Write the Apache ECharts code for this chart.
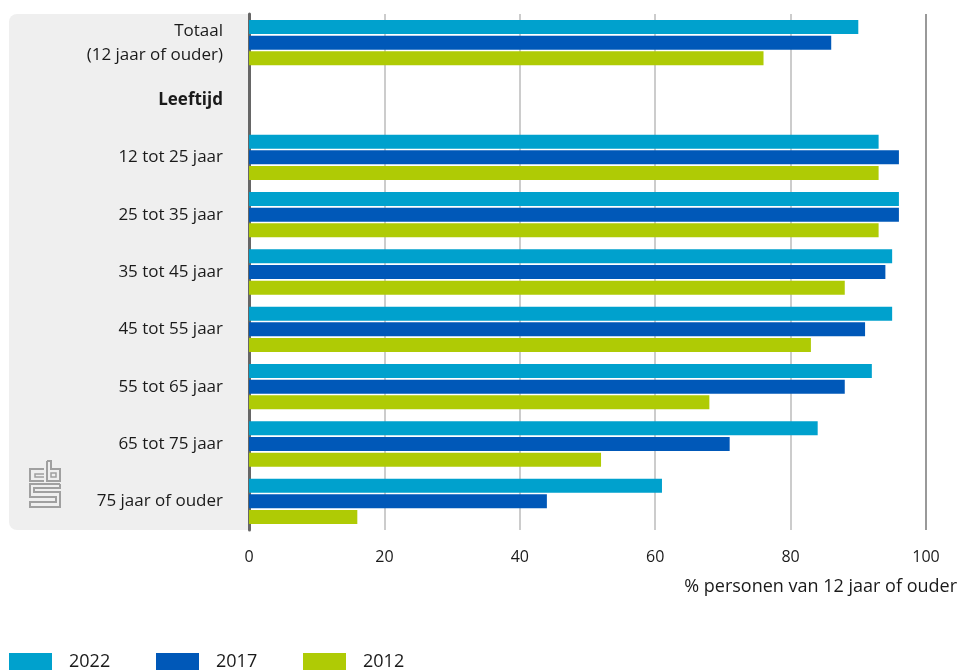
<!DOCTYPE html>
<html>
<head>
<meta charset="utf-8">
<script src="https://cdn.jsdelivr.net/npm/echarts@6/dist/echarts.min.js"></script>
<style>
  html, body { margin: 0; padding: 0; background: #fff; }
  #chart { width: 959px; height: 670px; }
</style>
</head>
<body>
<div id="chart"></div>
<script>
const categories = ["Totaal\n(12 jaar of ouder)", "Leeftijd", "12 tot 25 jaar", "25 tot 35 jaar", "35 tot 45 jaar", "45 tot 55 jaar", "55 tot 65 jaar", "65 tot 75 jaar", "75 jaar of ouder"];
const values2022 = [90, null, 93, 96, 95, 95, 92, 84, 61];
const values2017 = [86, null, 96, 96, 94, 91, 88, 71, 44];
const values2012 = [76, null, 93, 93, 88, 83, 68, 52, 16];
const seriesNames = ["2022", "2017", "2012"];
const xTitle = "% personen van 12 jaar of ouder";

const colorList = ["#00a1cd", "#0058b8", "#afcb05"];
const font = "Open Sans";
const textColor = "#1a1a1a";

var chart = echarts.init(document.getElementById("chart"));

function barSeries(name, data, idx) {
  return {
    type: "bar",
    name: name,
    data: data,
    barWidth: 14,
    barGap: "12%",
    itemStyle: { color: colorList[idx] },
    emphasis: { disabled: true },
  };
}

// one legend per item so the spacing matches the original
var legendLefts = [9, 156, 303];
var legends = seriesNames.map((name, idx) => {
  return {
    left: legendLefts[idx],
    top: 653,
    padding: 0,
    icon: "rect",
    itemWidth: 43,
    itemHeight: 18,
    selectedMode: false,
    textStyle: { fontSize: 18, fontFamily: font, color: textColor, padding: [0, 0, 0, 12] },
    data: [name],
  };
});

var logoStyle = { stroke: "#a0a0a0", lineWidth: 2, fill: null };

var option = {
  animation: false,
  backgroundColor: "#fff",
  textStyle: { fontFamily: font, color: textColor },
  graphic: [
    {
      type: "rect",
      z: -10,
      shape: { x: 9, y: 14, width: 240, height: 516, r: [8, 0, 0, 8] },
      style: { fill: "#efefef" },
    },
    {
      type: "group",
      z: -5,
      children: [
        { type: "polyline", shape: { points: [[44, 469], [30, 469], [30, 481], [44, 481]] }, style: logoStyle },
        { type: "polyline", shape: { points: [[44, 474], [35, 474], [35, 477], [44, 477]] }, style: { stroke: "#a0a0a0", lineWidth: 1.5, fill: null } },
        { type: "polyline", shape: { points: [[47, 461], [47, 481], [60, 481], [60, 469], [51, 469], [51, 461], [47, 461]] }, style: logoStyle },
        { type: "rect", shape: { x: 51, y: 473, width: 5, height: 4 }, style: { stroke: "#a0a0a0", lineWidth: 1.5, fill: null } },
        { type: "polyline", shape: { points: [[60, 484], [30, 484], [30, 497], [56, 497], [56, 502], [30, 502], [30, 507], [60, 507], [60, 492], [34, 492], [34, 488], [60, 488], [60, 484]] }, style: logoStyle },
      ],
    },
    {
      type: "text",
      right: 2,
      top: 578,
      style: { text: xTitle, font: "18px '" + font + "'", fill: textColor },
    },
  ],
  legend: legends,
  grid: {
    left: 249,
    right: 33,
    top: 14,
    bottom: 140,
  },
  xAxis: {
    type: "value",
    min: 0,
    max: 100,
    interval: 20,
    axisLine: { show: false },
    axisTick: { show: false },
    axisLabel: { fontSize: 16, color: textColor, margin: 19 },
    splitLine: {
      show: true,
      lineStyle: { color: ["#bbbbbb", "#bbbbbb", "#bbbbbb", "#bbbbbb", "#bbbbbb", "#777777"], width: 1.5 },
    },
  },
  yAxis: {
    type: "category",
    data: categories,
    inverse: true,
    axisLine: { show: true, lineStyle: { color: "#666", width: 3 } },
    axisTick: { show: false },
    axisLabel: {
      fontSize: 17,
      color: textColor,
      margin: 26,
      lineHeight: 24,
      formatter: function (v) {
        return v === "Leeftijd" ? "{b|" + v + "}" : v;
      },
      rich: { b: { fontWeight: "bold", fontSize: 17, fontFamily: font, color: textColor } },
    },
  },
  series: [barSeries("2022", values2022, 0), barSeries("2017", values2017, 1), barSeries("2012", values2012, 2)],
};
option && chart.setOption(option);
</script>
</body>
</html>
